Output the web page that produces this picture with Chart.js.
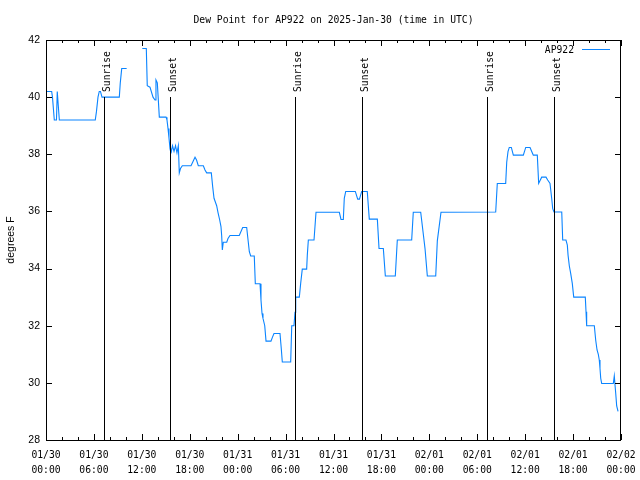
<!DOCTYPE html>
<html>
<head>
<meta charset="utf-8">
<script src="https://cdn.jsdelivr.net/npm/chart.js@4"></script>
<style>
  html, body { margin: 0; padding: 0; background: #fff; }
  #wrap { width: 640px; height: 480px; }
</style>
</head>
<body>
<div id="wrap"><canvas id="dewChart" width="640" height="480"></canvas></div>
<script>
// Data (hours since 01/30 00:00 UTC, dew point in F)
const dewHours = [
  0.04, 0.71, 0.81, 1.04, 1.31, 1.41, 1.48, 1.67, 6.17, 6.32, 6.51, 6.67, 6.82, 7.01, 9.18, 9.30, 9.48, 10.1,
  11.0,
  12.06, 12.56, 12.68, 13.02, 13.4, 13.65, 13.77, 13.94, 14.19, 15.03, 15.15, 15.28, 15.4, 15.53, 15.65,
  15.84, 16.03, 16.22, 16.4, 16.57, 16.69, 16.84, 17.07, 18.16, 18.41, 18.66, 18.85, 19.07, 19.7, 19.91,
  20.12, 20.70, 20.87, 21.04, 21.37, 21.54, 21.75, 21.91, 22.0, 22.08, 22.20, 22.63, 22.79, 23.04, 24.2,
  24.63, 25.13, 25.46, 25.63, 26.08, 26.21, 26.8, 26.92, 27.05, 27.17, 27.39, 27.55, 28.17, 28.36, 28.55,
  29.3, 29.46, 29.59, 30.64, 30.77, 31.05, 31.18, 31.27, 31.72, 31.89, 32.09, 32.64, 32.72, 32.85, 33.56,
  33.81, 36.73, 36.94, 37.23, 37.35, 37.53, 38.73, 39.03, 39.25, 39.53, 40.23, 40.48, 41.49, 41.7, 42.24,
  42.49, 43.74, 43.99, 45.79, 45.99, 46.92, 47.46, 47.75, 48.8, 49.0, 49.46, 56.31, 56.51, 57.56, 57.69,
  57.85, 58.01, 58.27, 58.52, 59.77, 60.07, 60.61, 60.82, 61.02, 61.52, 61.69, 62.07, 62.61, 62.82, 63.11,
  63.32, 63.45, 63.61, 64.58, 64.70, 65.11, 65.28, 65.37, 65.53, 65.7, 65.9, 66.08, 67.53, 67.62, 67.7,
  68.66, 68.83, 69.0, 69.16, 69.28, 69.37, 69.46, 69.58, 71.04, 71.16, 71.34, 71.46, 71.63
];
const dewValues = [
  40.2, 40.2, 40.0, 39.2, 39.2, 40.2, 40.2, 39.2, 39.2, 39.5, 40.0, 40.2, 40.2, 40.0, 40.0, 40.5, 41.0, 41.0,
  null,
  41.7, 41.7, 40.4, 40.35, 40.0, 39.9, 40.6, 40.5, 39.3, 39.3, 39.2, 38.9, 38.57, 38.2, 38.03,
  38.3, 38.1, 38.3, 38.05, 38.3, 37.35, 37.5, 37.6, 37.6, 37.75, 37.9, 37.8, 37.6, 37.6, 37.45,
  37.35, 37.35, 36.87, 36.46, 36.2, 35.96, 35.7, 35.47, 35.14, 34.65, 34.92, 34.92, 35.05, 35.16, 35.16,
  35.44, 35.44, 34.59, 34.44, 34.44, 33.47, 33.47, 32.9, 32.43, 32.26, 32.0, 31.46, 31.46, 31.6, 31.73,
  31.73, 31.2, 30.73, 30.73, 32.0, 32.0, 32.47, 33.0, 33.0, 33.48, 33.98, 33.98, 34.47, 35.0, 35.0,
  35.97, 35.97, 35.72, 35.72, 36.46, 36.7, 36.7, 36.43, 36.43, 36.7, 36.7, 35.73, 35.73, 34.7, 34.7,
  33.74, 33.74, 35.0, 35.0, 35.97, 35.97, 34.7, 33.74, 33.74, 34.97, 35.97, 35.98, 36.98, 36.98, 37.72,
  38.09, 38.24, 38.24, 37.97, 37.97, 38.24, 38.24, 38.1, 37.97, 37.97, 36.98, 37.2, 37.2, 37.1, 36.98,
  36.46, 36.1, 35.98, 35.98, 35.0, 35.0, 34.82, 34.47, 34.09, 33.83, 33.48, 33.0, 33.0, 32.49, 32.0,
  32.0, 31.5, 31.15, 31.0, 30.8, 30.5, 30.16, 29.98, 29.98, 30.24, 29.63, 29.19, 29.0
];

const sunriseHours = [7.30, 31.22, 55.26];
const sunsetHours = [15.56, 39.61, 63.65];

const xTickDates = ['01/30', '01/30', '01/30', '01/30', '01/31', '01/31', '01/31', '01/31', '02/01', '02/01', '02/01', '02/01', '02/02'];
const xTickTimes = ['00:00', '06:00', '12:00', '18:00', '00:00', '06:00', '12:00', '18:00', '00:00', '06:00', '12:00', '18:00', '00:00'];
const yTickValues = [28, 30, 32, 34, 36, 38, 40, 42];

const MONO = '"DejaVu Sans Mono", monospace';
const SANS = '"Liberation Sans", Arial, sans-serif';
const LINE_BLUE = '#0a84ff';

// frame, inward ticks, sun markers, title, labels, legend
const overlay = {
  id: 'overlay',
  afterDraw(chart) {
    const ctx = chart.ctx;
    const xs = chart.scales.x;
    const ys = chart.scales.y;
    const a = chart.chartArea;

    ctx.save();
    ctx.strokeStyle = '#000';
    ctx.lineWidth = 1;
    ctx.strokeRect(Math.round(a.left) + 0.5, Math.round(a.top) + 0.5,
      Math.round(a.right - a.left) - 1, Math.round(a.bottom - a.top));

    ctx.beginPath();
    for (let h = 0; h <= 72; h += 2) {
      const px = Math.round(xs.getPixelForValue(h)) + 0.5;
      const len = h % 6 === 0 ? 6 : 3;
      ctx.moveTo(px, a.bottom); ctx.lineTo(px, a.bottom - len);
      ctx.moveTo(px, a.top); ctx.lineTo(px, a.top + len);
    }
    yTickValues.forEach(v => {
      const py = Math.round(ys.getPixelForValue(v)) + 0.5;
      ctx.moveTo(a.left, py); ctx.lineTo(a.left + 6, py);
      ctx.moveTo(a.right, py); ctx.lineTo(a.right - 6, py);
    });
    // sunrise / sunset vertical lines from 40 F down to the axis
    const top40 = Math.round(ys.getPixelForValue(40));
    [...sunriseHours, ...sunsetHours].forEach(h => {
      const px = Math.round(xs.getPixelForValue(h)) + 0.5;
      ctx.moveTo(px, top40); ctx.lineTo(px, a.bottom);
    });
    ctx.stroke();

    ctx.fillStyle = '#000';
    ctx.font = '9.7px ' + MONO;
    ctx.textAlign = 'center';
    ctx.textBaseline = 'middle';
    ctx.fillText('Dew Point for AP922 on 2025-Jan-30 (time in UTC)', (a.left + a.right) / 2, 20);

    const drawSun = (h, text) => {
      const px = Math.round(xs.getPixelForValue(h));
      ctx.save();
      ctx.translate(px + 6, top40 - 5);
      ctx.rotate(-Math.PI / 2);
      ctx.textAlign = 'left';
      ctx.textBaseline = 'alphabetic';
      ctx.fillText(text, 0, 0);
      ctx.restore();
    };
    sunriseHours.forEach(h => drawSun(h, 'Sunrise'));
    sunsetHours.forEach(h => drawSun(h, 'Sunset'));

    // legend
    ctx.textAlign = 'right';
    ctx.fillText('AP922', 574, 50);
    ctx.strokeStyle = LINE_BLUE;
    ctx.beginPath();
    ctx.moveTo(582, 49.5); ctx.lineTo(610, 49.5);
    ctx.stroke();

    // y axis title
    ctx.save();
    ctx.translate(11, (a.top + a.bottom) / 2);
    ctx.rotate(-Math.PI / 2);
    ctx.font = '10.5px ' + SANS;
    ctx.textAlign = 'center';
    ctx.fillStyle = '#000';
    ctx.fillText('degrees F', 0, 0);
    ctx.restore();

    ctx.restore();
  }
};

const dewData = dewHours.map((h, i) => ({ x: h, y: dewValues[i] }));

new Chart(document.getElementById('dewChart'), {
  type: 'line',
  data: {
    datasets: [
      {
        label: 'AP922',
        data: dewData,
        borderColor: LINE_BLUE,
        borderWidth: 1.1,
        pointRadius: 0,
        tension: 0,
        spanGaps: false
      }
    ]
  },
  options: {
    responsive: false,
    animation: false,
    events: [],
    layout: { padding: { left: 0, right: 19, top: 40, bottom: 0 } },
    plugins: {
      legend: { display: false },
      title: { display: false },
      tooltip: { enabled: false }
    },
    scales: {
      x: {
        type: 'linear',
        min: 0,
        max: 72,
        grid: { display: false, drawTicks: false },
        border: { display: false },
        afterBuildTicks: s => { s.ticks = xTickDates.map((d, i) => ({ value: i * 6 })); },
        afterFit: s => { s.height = 40; s.paddingLeft = 0; s.paddingRight = 0; },
        ticks: {
          autoSkip: false,
          maxRotation: 0,
          padding: 8,
          color: '#000',
          font: { family: MONO, size: 9.7, lineHeight: 1.55 },
          callback: (v, i) => [xTickDates[i], xTickTimes[i]]
        }
      },
      y: {
        min: 28,
        max: 42,
        grid: { display: false, drawTicks: false },
        border: { display: false },
        afterBuildTicks: s => { s.ticks = yTickValues.map(v => ({ value: v })); },
        afterFit: s => { s.width = 46; s.paddingTop = 0; s.paddingBottom = 0; },
        ticks: {
          padding: 6,
          color: '#000',
          font: { family: SANS, size: 10.5 },
          callback: v => String(v)
        }
      }
    }
  },
  plugins: [overlay]
});
</script>
</body>
</html>
